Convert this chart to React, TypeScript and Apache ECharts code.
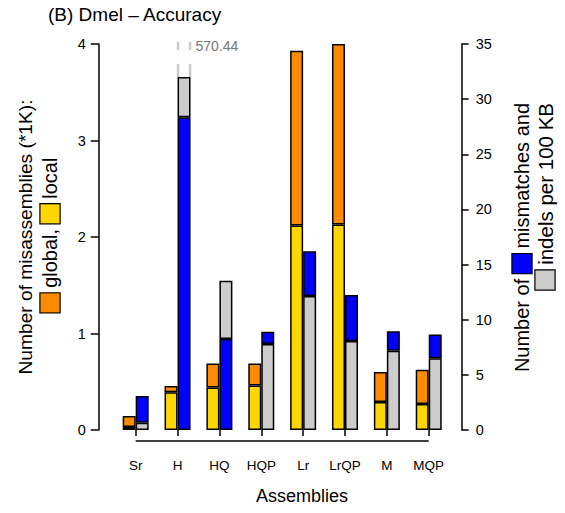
import React, { useEffect, useRef } from "react";
import * as echarts from "echarts";

const CATEGORIES = ["Sr", "H", "HQ", "HQP", "Lr", "LrQP", "M", "MQP"];
// misassemblies (*1K), left axis
const GLOBAL_MIS = [0.145, 0.456, 0.69, 0.69, 3.93, 4.0, 0.6, 0.625];
const LOCAL_MIS = [0.03, 0.39, 0.44, 0.46, 2.12, 2.13, 0.29, 0.27];
// per 100 KB, right axis
const MISMATCHES = [3.08, 28.35, 8.25, 8.91, 16.2, 12.24, 8.95, 8.67];
const INDELS = [0.66, 570.44, 13.54, 7.8, 12.15, 8.07, 7.19, 6.5];
const RIGHT_BREAK_AT = 32; // bars above this value are drawn broken
const LEFT_TICKS = { min: 0, max: 4, interval: 1 };
const RIGHT_TICKS = { min: 0, max: 35, interval: 5 };

const C_GLOBAL = "#FF8C00";
const C_LOCAL = "#FFD700";
const C_MISM = "#0000FF";
const C_INDEL = "#CCCCCC";
const FONT = "'Liberation Sans', Arial, Helvetica, sans-serif";
const BAR_W = 13;
const SQ = 19;

function overlay(a: number[], b: number[], ca: string, cb: string, cap: number) {
  const low: any[] = [];
  const high: any[] = [];
  a.forEach((va, i) => {
    const x = Math.min(va, cap);
    const y = Math.min(b[i], cap);
    const lo = Math.min(x, y);
    const hi = Math.max(x, y);
    low.push({ value: lo, itemStyle: { color: x <= y ? ca : cb } });
    high.push({ value: hi - lo, itemStyle: { color: x <= y ? cb : ca } });
  });
  return { low, high };
}

const sq = (color: string) => ({
  width: SQ,
  height: SQ,
  backgroundColor: color,
  borderColor: "#000",
  borderWidth: 1.2,
});

export default function App() {
  const ref = useRef<HTMLDivElement>(null);
  useEffect(() => {
    if (!ref.current) return;
    const chart = echarts.init(ref.current, null, { renderer: "svg" });
    const mis = overlay(LOCAL_MIS, GLOBAL_MIS, C_LOCAL, C_GLOBAL, Infinity);
    const err = overlay(MISMATCHES, INDELS, C_MISM, C_INDEL, RIGHT_BREAK_AT);
    const barStyle = { borderColor: "#000", borderWidth: 1.5 };
    const axisLine = { show: true, lineStyle: { color: "#000", width: 1.5 } };
    chart.setOption({
      animation: false,
      backgroundColor: "#fff",
      grid: { left: 114.75, right: 115.35, top: 44, bottom: 83, containLabel: false },
      xAxis: {
        type: "category",
        data: CATEGORIES,
        offset: 11,
        axisLine: { show: false },
        axisTick: { show: true, alignWithLabel: true, length: 6, lineStyle: { color: "#000", width: 1.5 } },
        axisLabel: { color: "#000", fontSize: 13.5, fontFamily: FONT, margin: 17 },
        splitLine: { show: false },
      },
      yAxis: [
        {
          type: "value",
          position: "left",
          offset: 16,
          ...LEFT_TICKS,
          axisLine,
          axisTick: { show: true, length: 8, lineStyle: { color: "#000", width: 1.5 } },
          axisLabel: { color: "#000", fontSize: 14.5, fontFamily: FONT, margin: 13 },
          splitLine: { show: false },
        },
        {
          type: "value",
          position: "right",
          offset: 12,
          ...RIGHT_TICKS,
          axisLine,
          axisTick: { show: true, length: 7, lineStyle: { color: "#000", width: 1.5 } },
          axisLabel: { color: "#000", fontSize: 14.5, fontFamily: FONT, margin: 14 },
          splitLine: { show: false },
        },
      ],
      series: [
        { type: "bar", name: "misLow", stack: "mis", yAxisIndex: 0, barWidth: BAR_W, barGap: "0%", data: mis.low, itemStyle: barStyle },
        { type: "bar", name: "misHigh", stack: "mis", yAxisIndex: 0, barWidth: BAR_W, barGap: "0%", data: mis.high, itemStyle: barStyle },
        { type: "bar", name: "errLow", stack: "err", yAxisIndex: 1, barWidth: BAR_W, barGap: "0%", data: err.low, itemStyle: barStyle },
        { type: "bar", name: "errHigh", stack: "err", yAxisIndex: 1, barWidth: BAR_W, barGap: "0%", data: err.high, itemStyle: barStyle },
      ],
    });

    // decorations computed from the chart's own scales
    const xFirst = chart.convertToPixel({ xAxisIndex: 0 }, CATEGORIES[0]) as number;
    const xLast = chart.convertToPixel({ xAxisIndex: 0 }, CATEGORIES[CATEGORIES.length - 1]) as number;
    const yBase = chart.convertToPixel({ yAxisIndex: 0 }, 0) as number;
    const yR = (v: number) => chart.convertToPixel({ yAxisIndex: 1 }, v) as number;
    const graphics: any[] = [
      {
        type: "line",
        shape: { x1: xFirst, y1: yBase + 11, x2: xLast, y2: yBase + 11 },
        style: { stroke: "#000", lineWidth: 1.5 },
      },
      {
        type: "text",
        x: 48,
        y: 14,
        style: { text: "(B) Dmel \u2013 Accuracy", fontSize: 19, fontFamily: FONT, fill: "#000", textAlign: "left", textVerticalAlign: "middle" },
      },
      {
        type: "text",
        x: 302,
        y: 496,
        style: { text: "Assemblies", fontSize: 18, fontFamily: FONT, fill: "#000", textAlign: "center", textVerticalAlign: "middle" },
      },
      {
        type: "text",
        x: 25,
        y: 237,
        rotation: Math.PI / 2,
        style: { text: "Number of misassemblies (*1K):", fontSize: 19.2, fontFamily: FONT, fill: "#000", textAlign: "center", textVerticalAlign: "middle" },
      },
      {
        type: "text",
        x: 50,
        y: 235,
        rotation: Math.PI / 2,
        style: {
          text: "{o|} global, {y|} local",
          fontSize: 20,
          fontFamily: FONT,
          fill: "#000",
          textAlign: "center",
          textVerticalAlign: "middle",
          rich: { o: sq(C_GLOBAL), y: sq(C_LOCAL) },
        },
      },
      {
        type: "text",
        x: 522,
        y: 103,
        rotation: Math.PI / 2,
        style: {
          text: "Number of {b|} mismatches and",
          fontSize: 20,
          fontFamily: FONT,
          fill: "#000",
          textAlign: "right",
          textVerticalAlign: "middle",
          rich: { b: sq(C_MISM) },
        },
      },
      {
        type: "text",
        x: 545,
        y: 103,
        rotation: Math.PI / 2,
        style: {
          text: "{g|} indels per 100 KB",
          fontSize: 20.5,
          fontFamily: FONT,
          fill: "#000",
          textAlign: "right",
          textVerticalAlign: "middle",
          rich: { g: sq(C_INDEL) },
        },
      },
    ];
    // broken bars: grey marks above and the true value
    INDELS.forEach((v, i) => {
      if (v <= RIGHT_BREAK_AT) return;
      const xc = chart.convertToPixel({ xAxisIndex: 0 }, CATEGORIES[i]) as number;
      const xs = [xc + 0.5, xc + BAR_W - 0.5];
      const segs = [
        [RIGHT_BREAK_AT, 33.2],
        [34.45, 35.2],
      ];
      xs.forEach((x) =>
        segs.forEach(([a, b]) =>
          graphics.push({
            type: "line",
            shape: { x1: x, y1: yR(a), x2: x, y2: yR(b) },
            style: { stroke: "#CCCCCC", lineWidth: 2.5 },
          })
        )
      );
      graphics.push({
        type: "text",
        x: xc + BAR_W + 5,
        y: yR(34.85),
        style: { text: v.toFixed(2), fontSize: 14, fontFamily: FONT, fill: "#777", textAlign: "left", textVerticalAlign: "middle" },
      });
    });
    chart.setOption({ graphic: graphics });
    return () => chart.dispose();
  }, []);
  return (
    <div
      ref={ref}
      style={{ position: "absolute", left: 0, top: 0, width: 565, height: 513, background: "#fff" }}
    />
  );
}
